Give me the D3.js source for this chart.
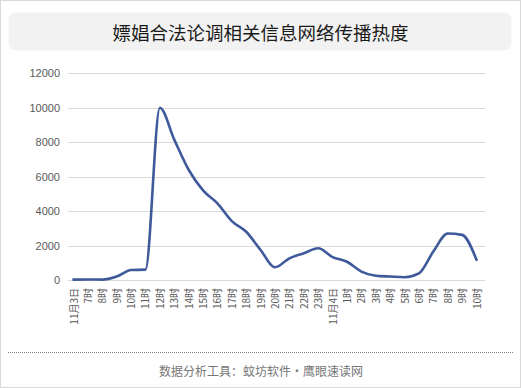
<!DOCTYPE html>
<html><head><meta charset="utf-8">
<script src="https://cdn.jsdelivr.net/npm/d3@7/dist/d3.min.js"></script>
<style>html,body{margin:0;padding:0;background:#fff;}</style>
</head><body><svg id="c" width="521" height="388"></svg>
<script>
const title = "嫖娼合法论调相关信息网络传播热度";
const footer = "数据分析工具：蚊坊软件·鹰眼速读网";
const categories = ["11月3日","7时","8时","9时","10时","11时","12时","13时","14时","15时","16时","17时","18时","19时","20时","21时","22时","23时","11月4日","1时","2时","3时","4时","5时","6时","7时","8时","9时","10时"];
const values = [20,30,20,200,580,600,10000,8150,6400,5200,4450,3420,2800,1740,740,1260,1550,1840,1330,1060,490,250,200,160,380,1650,2700,2620,1170];
const yTicks = [0,2000,4000,6000,8000,10000,12000];

const svg = d3.select("#c");
svg.append("rect").attr("x",0.5).attr("y",0.5).attr("width",520).attr("height",387)
  .attr("fill","#fff").attr("stroke","#d9d9d9");
svg.append("rect").attr("x",8.5).attr("y",12.5).attr("width",503).attr("height",38).attr("rx",7)
  .attr("fill","#f2f2f2");
svg.append("text").attr("x",260.5).attr("y",32).attr("text-anchor","middle").attr("dominant-baseline","central")
  .attr("font-family","'Noto Sans CJK SC'").attr("font-size",18.5).attr("fill","#1a1a1a").text(title);

const idx = categories.map((d,i)=>i);
const x = d3.scalePoint().domain(idx).range([73.5,476.5]);
const y = d3.scaleLinear().domain([0,12000]).range([280,73.3]);

const g = svg.append("g");
g.selectAll("line.grid").data(yTicks).join("line")
  .attr("x1",68).attr("x2",485).attr("y1",d=>Math.round(y(d))+0.5).attr("y2",d=>Math.round(y(d))+0.5)
  .attr("stroke","#d9d9d9").attr("stroke-width",1);

const yAxis = d3.axisLeft(y).tickValues(yTicks).tickSize(0).tickPadding(0).tickFormat(d3.format("d"));
const ya = svg.append("g").attr("transform","translate(60,0)").call(yAxis);
ya.select(".domain").remove();
ya.selectAll("text").attr("font-family","'Liberation Sans', Arial").attr("font-size",11).attr("fill","#595959");

const xAxis = d3.axisBottom(x).tickSize(0).tickPadding(0).tickFormat(i=>categories[i]);
const xa = svg.append("g").attr("transform","translate(0,288)").call(xAxis);
xa.select(".domain").remove();
xa.selectAll("text").attr("font-family","'Noto Sans CJK SC'").attr("font-size",10).attr("fill","#595959")
  .attr("text-anchor","end").attr("dy",null).attr("y",0).attr("x",0)
  .attr("transform","rotate(-90) translate(0,3.5)");

const line = d3.line().x((d,i)=>x(i)).y(d=>y(d)).curve(d3.curveMonotoneX);
svg.append("path").datum(values).attr("d",line).attr("fill","none")
  .attr("stroke","#3e5a9b").attr("stroke-width",2.6).attr("stroke-linejoin","round").attr("stroke-linecap","round");

svg.append("line").attr("x1",8).attr("x2",513).attr("y1",352.5).attr("y2",352.5)
  .attr("stroke","#808080").attr("stroke-dasharray","1,1");
svg.append("text").attr("x",261).attr("y",370).attr("text-anchor","middle").attr("dominant-baseline","central")
  .attr("font-family","'Noto Sans CJK SC'").attr("font-size",12).attr("fill","#767676").text(footer);
</script></body></html>
